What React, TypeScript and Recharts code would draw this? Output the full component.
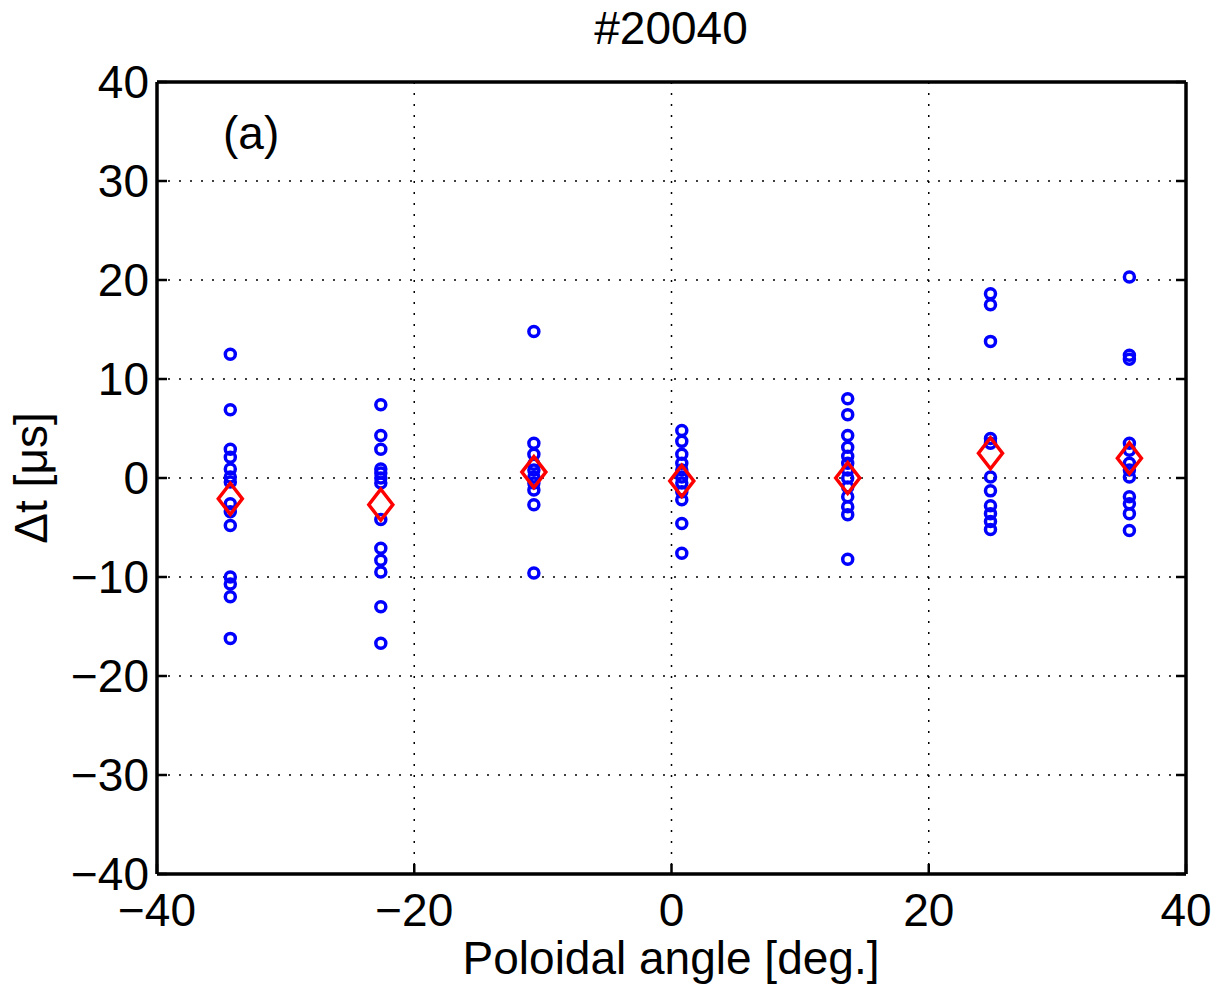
import { ScatterChart, Scatter, XAxis, YAxis, CartesianGrid } from 'recharts';

// poloidal angle of each probe column [deg.]
const angles = [-34.3, -22.6, -10.7, 0.8, 13.7, 24.8, 35.6];

// individual delays [µs], one list per column
const dtCol1 = [12.5, 6.9, 2.9, 2.1, 0.9, 0.1, -0.4, -2.6, -3.4, -4.8, -10.0, -10.7, -12.0, -16.2];
const dtCol2 = [7.4, 4.3, 2.9, 0.9, 0.5, 0.0, -0.5, -4.2, -7.1, -8.3, -9.5, -13.0, -16.7];
const dtCol3 = [14.8, 3.5, 2.4, 1.4, 0.8, 0.1, -0.5, -1.2, -2.7, -9.6];
const dtCol4 = [4.8, 3.7, 2.4, 1.5, 0.8, 0.1, -0.5, -1.4, -2.2, -4.6, -7.6];
const dtCol5 = [8.0, 6.4, 4.3, 3.1, 2.2, 1.5, 0.8, 0.0, -0.9, -1.9, -2.9, -3.7, -8.2];
const dtCol6 = [18.6, 17.5, 13.8, 4.0, 3.5, 0.1, -1.3, -2.8, -3.6, -4.4, -5.2];
const dtCol7 = [20.3, 12.4, 12.0, 3.5, 2.8, 1.5, 0.8, 0.1, -1.9, -2.6, -3.6, -5.3];

// mean delay per column [µs]
const meanDt = [-2.1, -2.7, 0.6, -0.3, 0.0, 2.5, 2.0];

const xTicks = [-40, -20, 0, 20, 40];
const yTicks = [-40, -30, -20, -10, 0, 10, 20, 30, 40];

const columns = [dtCol1, dtCol2, dtCol3, dtCol4, dtCol5, dtCol6, dtCol7];
const samples = columns.flatMap((col, i) => col.map((y) => ({ x: angles[i], y })));
const means = angles.map((x, i) => ({ x, y: meanDt[i] }));

const FONT = '"Liberation Sans", Arial, Helvetica, sans-serif';
const tickStyle = { fill: '#000', fontSize: 46, fontFamily: FONT };
const fmt = (v: number) => String(v).replace('-', '\u2212');
const frame = { stroke: '#000', strokeWidth: 3.5 };
const tickLn = { stroke: '#000', strokeWidth: 2.5 };

const Ring = (p: any) => (
  <circle cx={p.cx} cy={p.cy} r={5} fill="none" stroke="#0000ff" strokeWidth={3.5} />
);

const Diamond = (p: any) => (
  <path
    d={`M${p.cx},${p.cy - 15.5} L${p.cx + 12},${p.cy} L${p.cx},${p.cy + 15.5} L${p.cx - 12},${p.cy} Z`}
    fill="none"
    stroke="#ff0000"
    strokeWidth={3.5}
  />
);

const NoLabel = () => <g />;

export default function App() {
  return (
    <div style={{ position: 'absolute', left: 0, top: 0, width: 1218, height: 985, background: '#fff' }}>
      <ScatterChart width={1218} height={985} margin={{ top: 0, right: 0, bottom: 0, left: 0 }}>
        <CartesianGrid stroke="#000" strokeWidth={1.5} strokeDasharray="2 9" />
        <XAxis
          type="number"
          dataKey="x"
          domain={[-40, 40]}
          ticks={xTicks}
          height={111}
          tickSize={-10}
          tickMargin={29}
          tickFormatter={fmt}
          tick={tickStyle}
          axisLine={frame}
          tickLine={tickLn}
          allowDataOverflow
        />
        <XAxis
          xAxisId="top"
          orientation="top"
          type="number"
          domain={[-40, 40]}
          ticks={xTicks}
          height={82}
          tickSize={-10}
          tick={NoLabel}
          axisLine={frame}
          tickLine={tickLn}
          allowDataOverflow
        />
        <YAxis
          type="number"
          dataKey="y"
          domain={[-40, 40]}
          ticks={yTicks}
          width={157}
          tickSize={-10}
          tickMargin={18}
          tickFormatter={fmt}
          tick={tickStyle}
          axisLine={frame}
          tickLine={tickLn}
          allowDataOverflow
        />
        <YAxis
          yAxisId="right"
          orientation="right"
          type="number"
          domain={[-40, 40]}
          ticks={yTicks}
          width={32}
          tickSize={-10}
          tick={NoLabel}
          axisLine={frame}
          tickLine={tickLn}
          allowDataOverflow
        />
        <Scatter data={samples} shape={Ring} isAnimationActive={false} />
        <Scatter data={means} shape={Diamond} isAnimationActive={false} />
      </ScatterChart>
      <svg
        width={1218}
        height={985}
        style={{ position: 'absolute', left: 0, top: 0, pointerEvents: 'none' }}
        fontFamily={FONT}
        fontSize={46}
        fill="#000"
      >
        <text x={671} y={44} textAnchor="middle">#20040</text>
        <text x={671} y={974} textAnchor="middle">Poloidal angle [deg.]</text>
        <text transform="rotate(-90)" x={-478} y={47} textAnchor="middle">Δt [μs]</text>
        <text x={223} y={149}>(a)</text>
      </svg>
    </div>
  );
}
